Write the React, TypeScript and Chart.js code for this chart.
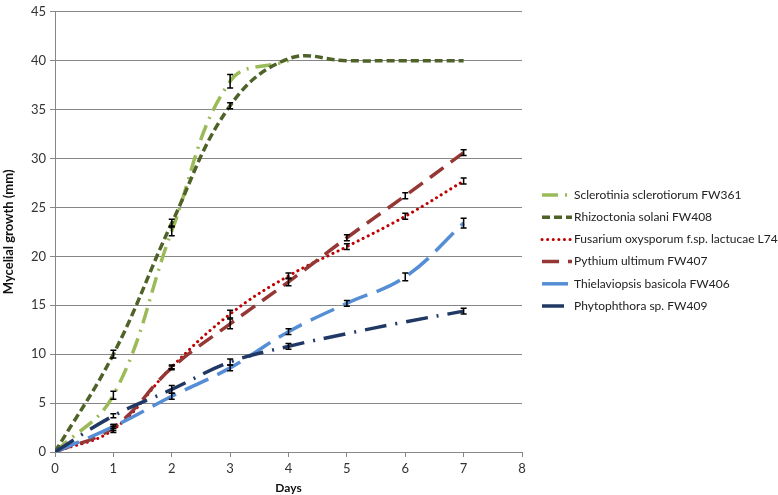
import React, { useEffect, useRef } from "react";
import { Chart, registerables } from "chart.js";

Chart.register(...registerables);

const days = [0, 1, 2, 3, 4, 5, 6, 7];
const xTicks = [0, 1, 2, 3, 4, 5, 6, 7, 8];
const yTicks = [0, 5, 10, 15, 20, 25, 30, 35, 40, 45];

const seriesNames = [
  "Sclerotinia sclerotiorum FW361",
  "Rhizoctonia solani FW408",
  "Fusarium oxysporum f.sp. lactucae L74",
  "Pythium ultimum FW407",
  "Thielaviopsis basicola FW406",
  "Phytophthora sp. FW409",
];

const sclerotinia = [0, 5.8, 22.6, 37.9, 40];
const rhizoctonia = [0, 10, 23.4, 35.4, 40.2, 40, 40, 40];
const fusarium = [0, 2.3, 8.7, 14.1, 18.0, 21.0, 24.1, 27.7];
const pythium = [0, 2.5, 8.6, 13.1, 17.4, 21.9, 26.2, 30.6];
const thielaviopsis = [0, 2.6, 5.7, 8.6, 12.3, 15.2, 17.9, 23.4];
const phytophthora = [0, 3.7, 6.4, 9.2, 10.8, 12.1, 13.3, 14.4];

const sclerotiniaErr = [0, 0.4, 0.5, 0.7, 0];
const rhizoctoniaErr = [0, 0.4, 0.4, 0.3, 0, 0, 0, 0];
const fusariumErr = [0, 0.3, 0.2, 0.4, 0.3, 0.3, 0.3, 0.3];
const pythiumErr = [0, 0.3, 0.2, 0.5, 0.4, 0.3, 0.3, 0.3];
const thielaviopsisErr = [0, 0.2, 0.3, 0.3, 0.3, 0.3, 0.4, 0.5];
const phytophthoraErr = [0, 0.2, 0.4, 0.3, 0.3, 0, 0, 0.3];

const FONT = "Lato";

const errorBarPlugin = {
  id: "errorBars",
  afterDatasetsDraw(chart: any) {
    const { ctx, scales } = chart;
    ctx.save();
    ctx.strokeStyle = "#000";
    ctx.lineWidth = 1.5;
    ctx.setLineDash([]);
    chart.data.datasets.forEach((ds: any) => {
      const errs: number[] = ds.errors || [];
      ds.data.forEach((p: any, i: number) => {
        const e = errs[i];
        if (!e) return;
        const x = scales.x.getPixelForValue(p.x);
        const y1 = scales.y.getPixelForValue(p.y - e);
        const y2 = scales.y.getPixelForValue(p.y + e);
        ctx.beginPath();
        ctx.moveTo(x, y1);
        ctx.lineTo(x, y2);
        ctx.moveTo(x - 3, y1);
        ctx.lineTo(x + 3, y1);
        ctx.moveTo(x - 3, y2);
        ctx.lineTo(x + 3, y2);
        ctx.stroke();
      });
    });
    ctx.restore();
  },
};

const legendPlugin = {
  id: "customLegend",
  afterDraw(chart: any) {
    const { ctx } = chart;
    const x0 = 542;
    const x1 = 572;
    const top = 195;
    const step = 22.2;
    ctx.save();
    chart.data.datasets.forEach((ds: any, i: number) => {
      const y = top + i * step;
      ctx.beginPath();
      ctx.strokeStyle = ds.borderColor;
      ctx.lineWidth = ds.borderWidth;
      ctx.lineCap = ds.borderCapStyle || "butt";
      ctx.setLineDash(ds.borderDash || []);
      ctx.moveTo(x0, y);
      ctx.lineTo(x1, y);
      ctx.stroke();
      ctx.setLineDash([]);
      ctx.fillStyle = "#222";
      ctx.font = `12px ${FONT}`;
      ctx.textBaseline = "middle";
      ctx.textAlign = "left";
      ctx.fillText(ds.label, 574, y);
    });
    ctx.restore();
  },
};

function mk(
  label: string,
  ys: number[],
  errs: number[],
  color: string,
  dash: number[],
  width: number,
  order: number,
  cap: string = "butt"
) {
  return {
    label,
    data: ys.map((v, i) => ({ x: days[i], y: v })),
    errors: errs,
    borderColor: color,
    backgroundColor: color,
    borderDash: dash,
    borderWidth: width,
    borderCapStyle: cap,
    pointRadius: 0,
    tension: 0.4,
    fill: false,
    order,
  };
}

export default function App() {
  const ref = useRef<HTMLCanvasElement>(null);
  useEffect(() => {
    if (!ref.current) return;
    const chart = new Chart(ref.current, {
      type: "line",
      data: {
        datasets: [
          mk(seriesNames[0], sclerotinia, sclerotiniaErr, "#9BBB59", [16, 7, 2, 7], 3.5, 6),
          mk(seriesNames[1], rhizoctonia, rhizoctoniaErr, "#4F6228", [8, 4], 3.5, 5),
          mk(seriesNames[2], fusarium, fusariumErr, "#C00000", [0.1, 5.5], 3, 4, "round"),
          mk(seriesNames[3], pythium, pythiumErr, "#953735", [17, 9], 3.5, 3),
          mk(seriesNames[4], thielaviopsis, thielaviopsisErr, "#558ED5", [26, 10], 3.5, 2),
          mk(seriesNames[5], phytophthora, phytophthoraErr, "#1F3864", [22, 9, 2, 9], 3.5, 1),
        ] as any,
      },
      options: {
        animation: false,
        responsive: false,
        maintainAspectRatio: false,
        layout: { padding: { left: 0, top: 6, right: 256, bottom: 0 } },
        plugins: {
          legend: { display: false },
          tooltip: { enabled: false },
        },
        scales: {
          x: {
            type: "linear",
            min: 0,
            max: 8,
            afterBuildTicks: (s: any) => {
              s.ticks = xTicks.map((v) => ({ value: v }));
            },
            afterFit: (s: any) => {
              s.height = 43;
            },
            ticks: {
              color: "#333",
              font: { family: FONT, size: 13 },
              padding: 4,
            },
            grid: {
              drawOnChartArea: false,
              drawTicks: true,
              tickLength: 5,
              color: "#868686",
              lineWidth: 1,
            },
            border: { color: "#868686", width: 1 },
            title: {
              display: true,
              text: "Days",
              color: "#111",
              font: { family: FONT, size: 12, weight: "bold" },
              padding: { top: 0, bottom: 0 },
            },
          },
          y: {
            type: "linear",
            min: 0,
            max: 45,
            afterBuildTicks: (s: any) => {
              s.ticks = yTicks.map((v) => ({ value: v }));
            },
            afterFit: (s: any) => {
              s.width = 55;
            },
            ticks: {
              color: "#333",
              font: { family: FONT, size: 13 },
              padding: 4,
            },
            grid: {
              color: "#868686",
              lineWidth: 1,
              tickLength: 5,
            },
            border: { color: "#868686", width: 1 },
            title: {
              display: true,
              text: "Mycelial growth (mm)",
              color: "#111",
              font: { family: FONT, size: 13, weight: "bold" },
              padding: { top: 1, bottom: 0 },
            },
          },
        },
      } as any,
      plugins: [errorBarPlugin, legendPlugin],
    });
    return () => chart.destroy();
  }, []);
  return (
    <div style={{ position: "absolute", left: 0, top: 0, width: 778, height: 495, background: "#fff" }}>
      <canvas ref={ref} width={778} height={495} style={{ width: 778, height: 495 }} />
    </div>
  );
}
